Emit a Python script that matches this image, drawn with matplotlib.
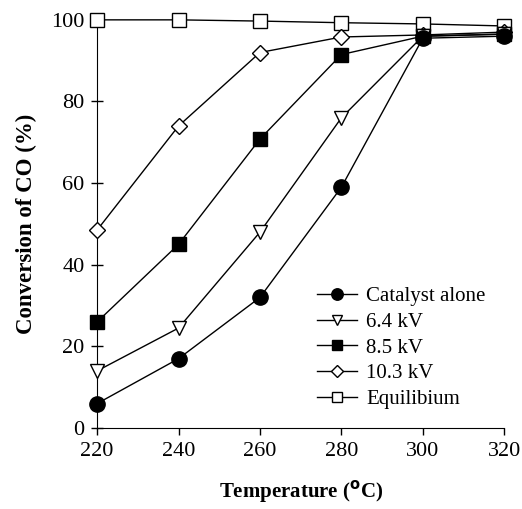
import numpy as np
import matplotlib.pyplot as plt

plt.rcParams['font.family'] = ['Liberation Serif', 'DejaVu Serif']

temps = [220, 240, 260, 280, 300, 320]
catalyst = [6, 17, 32, 59, 95.5, 96]
kv64 = [14, 24.5, 48, 76, 96, 96.5]
kv85 = [26, 45, 70.8, 91.5, 96, 96.5]
kv103 = [48.5, 74, 92, 95.8, 96.3, 97]
equil = [100, 100, 99.7, 99.3, 99, 98.5]

fig = plt.figure(figsize=(5.22, 5.09), dpi=100)
ax = fig.add_axes([0.186, 0.159, 0.78, 0.802])

common = dict(color='black', lw=1, ms=10, clip_on=False, zorder=3)
ax.plot(temps, equil, marker='s', mfc='white', mec='black', label='Equilibium', **common)
ax.plot(temps, kv103, marker='D', mfc='white', mec='black', label='10.3 kV', **{**common, 'ms': 8.5})
ax.plot(temps, kv85, marker='s', mfc='black', mec='black', label='8.5 kV', **common)
ax.plot(temps, kv64, marker='v', mfc='white', mec='black', label='6.4 kV', **common)
ax.plot(temps, catalyst, marker='o', mfc='black', mec='black', label='Catalyst alone', **{**common, 'ms': 11})

ax.set_xlim(220, 320)
ax.set_ylim(0, 100)
ax.set_xticks(temps)
ax.set_yticks(np.arange(0, 101, 20))
ax.tick_params(labelsize=16, direction='out', length=5, width=1, pad=5)
ax.tick_params(axis='y', direction='inout', length=8)
for s in ['top', 'right']:
    ax.spines[s].set_visible(False)

ax.set_xlabel('Temperature ($\\mathbf{^{o}}$C)', fontsize=15, fontweight='bold', labelpad=12)
ax.set_ylabel('Conversion of CO (%)', fontsize=16.5, fontweight='bold', labelpad=10)

h, l = ax.get_legend_handles_labels()
ax.legend(h[::-1], l[::-1], loc='lower right', bbox_to_anchor=(1.0, 0.0), frameon=False,
          fontsize=15, handlelength=1.9, handletextpad=0.45, labelspacing=0.3, markerscale=0.75)

fig.savefig('out.png', dpi=100)
